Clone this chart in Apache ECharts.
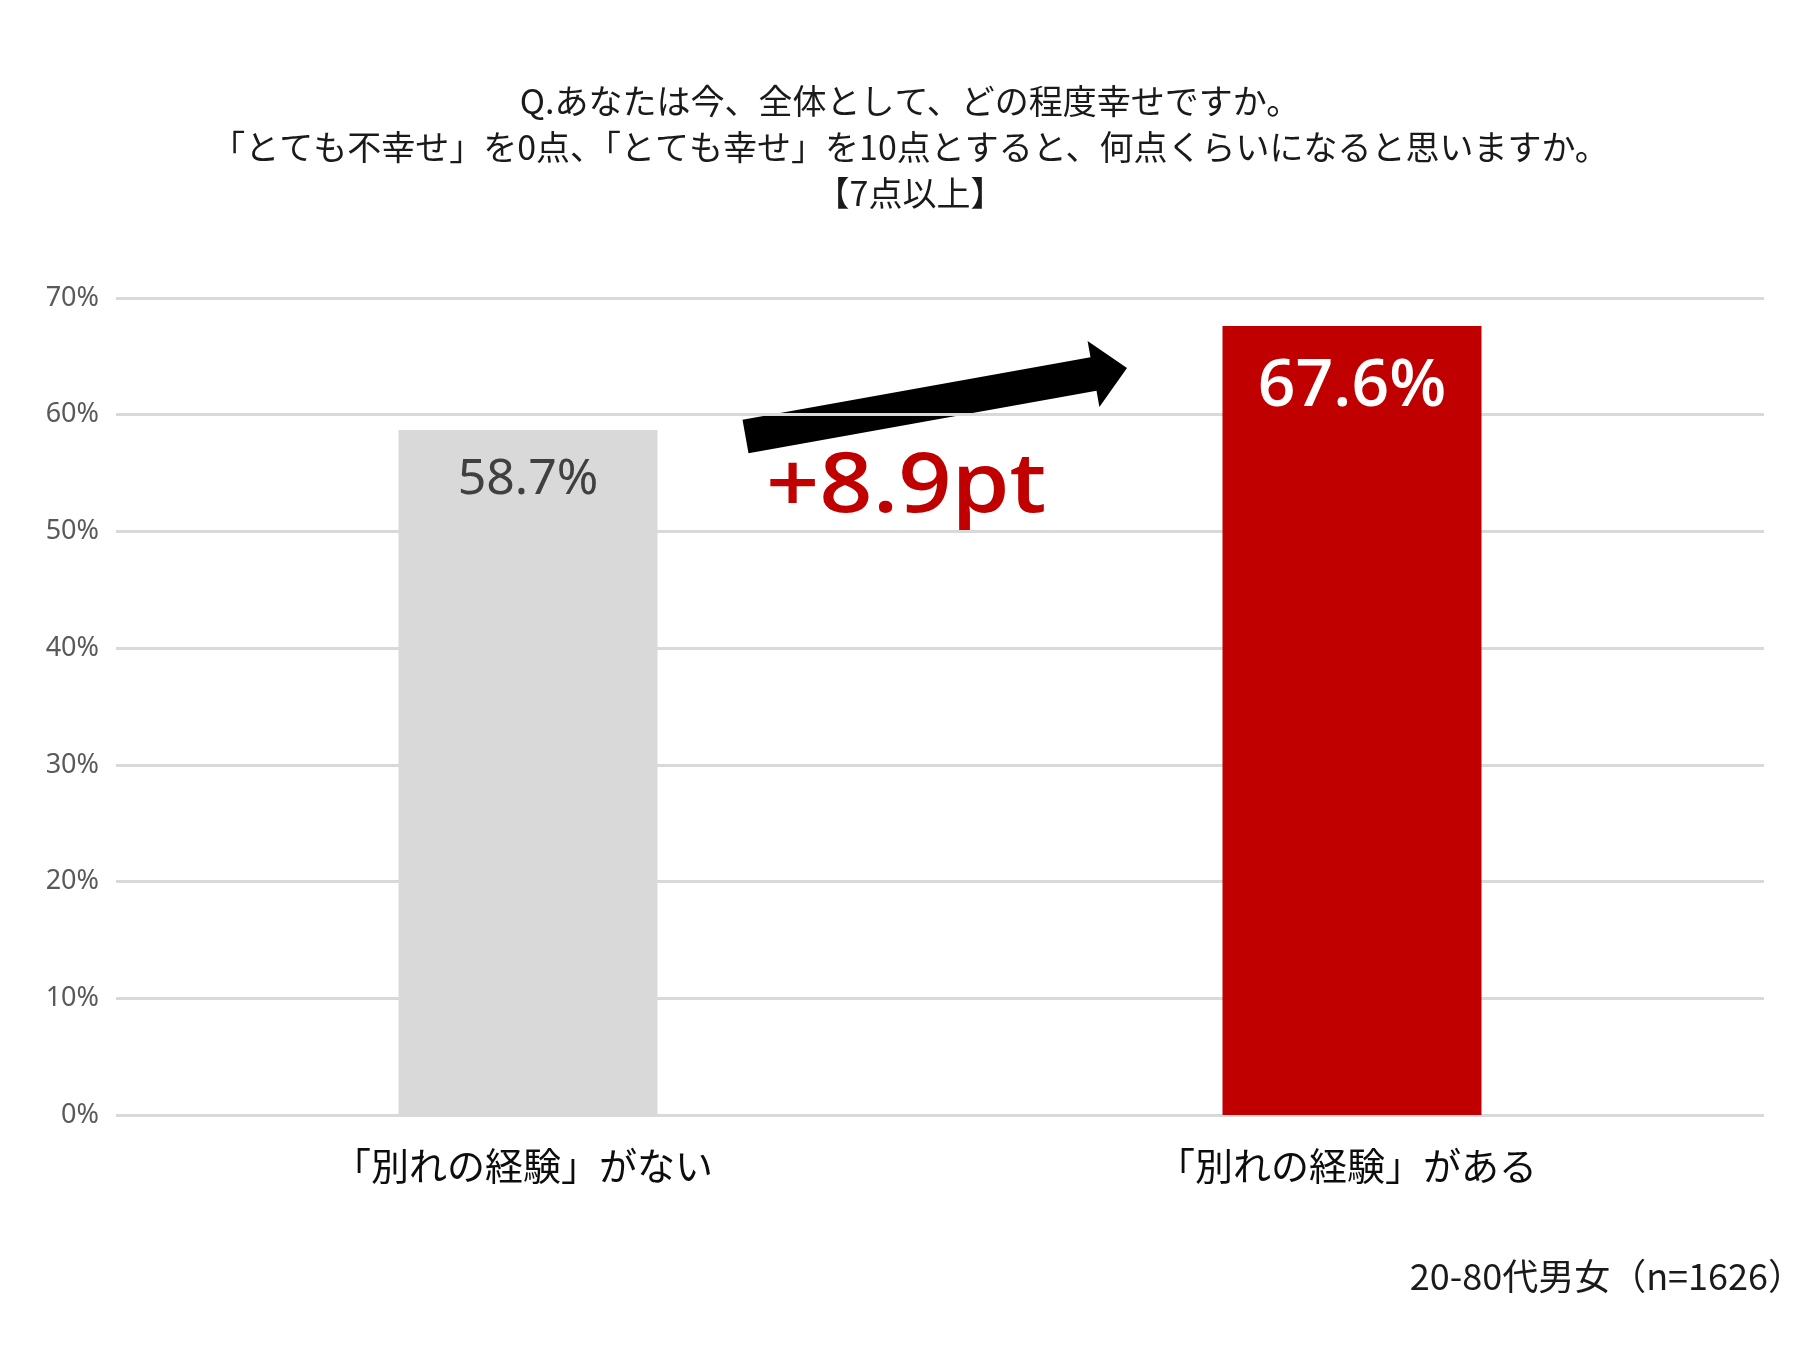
<!DOCTYPE html>
<html><head><meta charset="utf-8">
<script src="https://cdn.jsdelivr.net/npm/echarts@6/dist/echarts.min.js"></script>
<style>html,body{margin:0;padding:0;background:#fff}#c{width:1820px;height:1365px}</style>
</head><body><div id="c"></div>
<script>
const titleLines = ['Q.あなたは今、全体として、どの程度幸せですか。','「とても不幸せ」を0点、「とても幸せ」を10点とすると、何点くらいになると思いますか。','【7点以上】'];
const categories = ['「別れの経験」がない','「別れの経験」がある'];
const values = [58.7, 67.6];
const diffLabel = '+8.9pt';
const footnote = '20-80代男女（n=1626）';
const FONT = '"Noto Sans CJK JP","Noto Sans",sans-serif';

const chart = echarts.init(document.getElementById('c'));
chart.setOption({
  backgroundColor:'#fff',
  animation:false,
  title:{text:titleLines.join('\n'),left:'center',top:73,
    textStyle:{fontFamily:FONT,fontSize:34,fontWeight:'normal',color:'#1a1a1a',lineHeight:46}},
  grid:{left:116,right:56,top:298,bottom:250,containLabel:false},
  xAxis:{type:'category',data:categories,
    axisLine:{show:false},axisTick:{show:false},
    axisLabel:{fontFamily:FONT,fontSize:38,color:'#0d0d0d',margin:32,padding:[0,10,0,0]}},
  yAxis:{type:'value',min:0,max:70,interval:10,
    axisLine:{show:false},axisTick:{show:false},
    axisLabel:{formatter:'{value}%',fontFamily:'"Noto Sans",sans-serif',fontSize:27,color:'#595959',margin:17},
    splitLine:{lineStyle:{color:'#d9d9d9',width:3}}},
  series:[{type:'bar',barWidth:259,
    data:[
      {value:values[0],itemStyle:{color:'#d9d9d9'},
       label:{show:true,position:'insideTop',distance:25,formatter:'{c}%',fontFamily:'"Noto Sans",sans-serif',fontSize:50,color:'#404040'}},
      {value:values[1],itemStyle:{color:'#c00000'},
       label:{show:true,position:'insideTop',distance:28,formatter:'{c}%',fontFamily:'"Open Sans",sans-serif',fontSize:66,fontWeight:600,color:'#fff'}}
    ]}],
  graphic:[
    {type:'polygon',shape:{points:[[742.5,419.8],[1090.5,357.3],[1087.6,341],[1127,368],[1099.4,407],[1096.5,390.7],[748.5,453.2]]},
     style:{fill:'#000'}},
    {type:'text',x:766,y:446,scaleX:1.11,style:{text:diffLabel,font:'600 84px "Open Sans",sans-serif',fill:'#c00000'}},
    {type:'text',right:16,top:1258,style:{text:footnote,font:'36px "Noto Sans CJK JP",sans-serif',fill:'#1a1a1a'}}
  ]
});
</script></body></html>
